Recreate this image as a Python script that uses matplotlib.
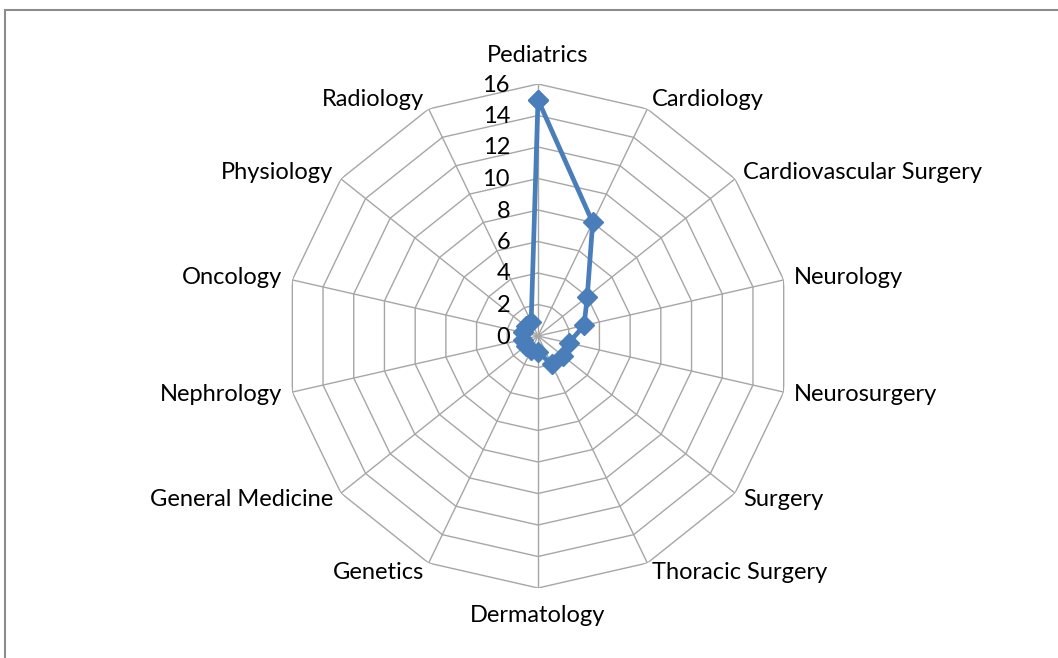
import numpy as np
import matplotlib
matplotlib.use("Agg")
import matplotlib.pyplot as plt
from matplotlib.patches import Rectangle

categories = ["Pediatrics", "Cardiology", "Cardiovascular Surgery", "Neurology",
              "Neurosurgery", "Surgery", "Thoracic Surgery", "Dermatology",
              "Genetics", "General Medicine", "Nephrology", "Oncology",
              "Physiology", "Radiology"]
values = [15, 8, 4, 3, 2, 2, 2, 1, 1, 1, 1, 1, 1, 1]
r_ticks = [0, 2, 4, 6, 8, 10, 12, 14, 16]

W, H = 1058, 658
fig = plt.figure(figsize=(W / 100, H / 100), dpi=100)
plt.rcParams['font.family'] = ['Lato', 'DejaVu Sans']

# outer frame
fig.patches.append(Rectangle((5 / W, -0.05), 1.2, 1 - 10 / H + 0.05,
                             transform=fig.transFigure, fill=False,
                             edgecolor="#8c8c8c", lw=1.5))

cx, cy, R = 538, 336, 252
ax = fig.add_axes([(cx - R) / W, (H - cy - R) / H, 2 * R / W, 2 * R / H],
                  projection="polar")
ax.set_theta_zero_location("N")
ax.set_theta_direction(-1)
ax.set_ylim(0, r_ticks[-1])
ax.grid(False)
ax.set_xticks([])
ax.set_yticks([])
ax.spines["polar"].set_visible(False)
ax.patch.set_alpha(0)

n = len(categories)
theta = np.arange(n) * 2 * np.pi / n
theta_closed = np.append(theta, theta[0])

grid_color = "#a6a6a6"
for r in r_ticks[1:]:
    ax.plot(theta_closed, [r] * (n + 1), color=grid_color, lw=1.0, zorder=1)
for t in theta:
    ax.plot([t, t], [0, r_ticks[-1]], color=grid_color, lw=1.0, zorder=1)

vals_closed = values + values[:1]
ax.plot(theta_closed, vals_closed, color="#4a7ebb", lw=3.4, marker="D",
        markersize=10, zorder=5, clip_on=False)

fs = 17
for r in r_ticks:
    ax.annotate(str(r), xy=(0, r), xytext=(-28, -1), textcoords="offset pixels",
                ha="right", va="center", fontsize=fs, color="#000000")

for t, lab in zip(theta, categories):
    s, c = np.sin(t), np.cos(t)
    if abs(s) < 0.05:
        ha = "center"
        dx, dy = 0, 28 * c
    else:
        ha = "left" if s > 0 else "right"
        dx, dy = 10 * s, 10 * c
    ax.annotate(lab, xy=(t, r_ticks[-1]), xytext=(dx, dy),
                textcoords="offset pixels", ha=ha, va="center",
                fontsize=fs, color="#000000", annotation_clip=False)

fig.savefig("out.png", dpi=100)
